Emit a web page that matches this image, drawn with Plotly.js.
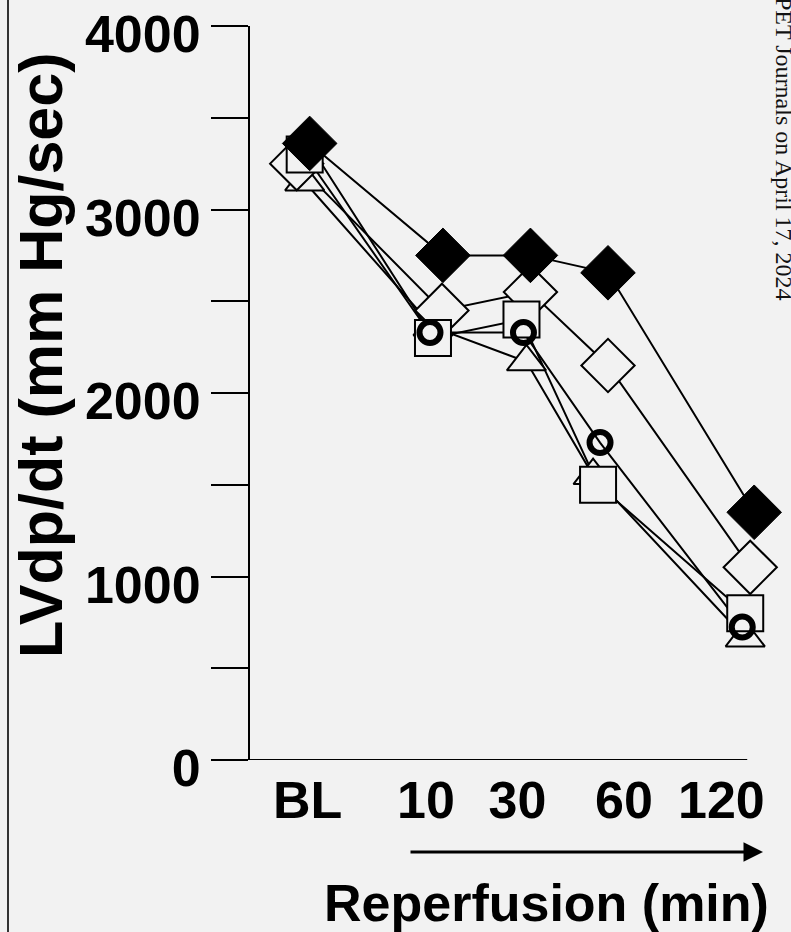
<!DOCTYPE html>
<html>
<head>
<meta charset="utf-8">
<script src="https://cdn.plot.ly/plotly-3.0.1.min.js"></script>
<style>
  html, body { margin: 0; padding: 0; background: #f2f2f2; }
  #chart { width: 791px; height: 932px; }
</style>
</head>
<body>
<div id="chart"></div>
<script>
// ---- data ----
const tickLabels = ['BL', '10', '30', '60', '120'];
const tickLabelPos = [0.58, 1.77, 2.69, 3.76, 4.74];
const xAxisEnd = 5;   // end of the drawn x-axis baseline (in x units)

const yTickVals = [0, 500, 1000, 1500, 2000, 2500, 3000, 3500, 4000];
const yTickText = ['0', '', '1000', '', '2000', '', '3000', '', '4000'];

// per-animal series: x = plotting position (category with small dodge), y = LVdp/dt
const triangleX = [0.55, 1.84, 2.78, 3.45, 4.98];
const triangleY = [3150, 2360, 2170, 1550, 665];

const openDiamondX = [0.47, 1.93, 2.82, 3.60, 5.03];
const openDiamondY = [3250, 2450, 2550, 2150, 1050];

const squareX = [0.55, 1.84, 2.73, 3.50, 4.98];
const squareY = [3300, 2300, 2400, 1500, 800];

const circleX = [0.60, 1.81, 2.75, 3.52, 4.95];
const circleY = [3350, 2330, 2330, 1730, 725];

const filledDiamondX = [0.60, 1.94, 2.82, 3.60, 5.07];
const filledDiamondY = [3360, 2750, 2750, 2655, 1350];

// ---- styling ----
const BG = '#f2f2f2';
const FONT = 'Liberation Sans, Arial, sans-serif';

const series = [
  {x: triangleX, y: triangleY, symbol: 'triangle-up', size: 34, fill: BG, lw: 2},
  {x: openDiamondX, y: openDiamondY, symbol: 'diamond', size: 41, fill: BG, lw: 2},
  {x: squareX, y: squareY, symbol: 'square', size: 36, fill: BG, lw: 2},
  {x: circleX, y: circleY, symbol: 'circle', size: 21, fill: 'rgba(0,0,0,0)', lw: 6},
  {x: filledDiamondX, y: filledDiamondY, symbol: 'diamond', size: 42, fill: '#000', lw: 1}
];

const traces = [];
series.forEach(s => {
  traces.push({
    type: 'scatter', mode: 'lines', x: s.x, y: s.y,
    line: {color: '#000', width: 2}, hoverinfo: 'skip', showlegend: false
  });
});
series.forEach(s => {
  traces.push({
    type: 'scatter', mode: 'markers', x: s.x, y: s.y, cliponaxis: false,
    marker: {symbol: s.symbol, size: s.size, color: s.fill, line: {color: '#000', width: s.lw}},
    showlegend: false
  });
});

const W = 791, H = 932;
const L = 250, R = 4, T = 26, B = 172;
const pw = W - L - R, ph = H - T - B;
const px = v => (v - L) / pw;          // page pixel -> paper x
const py = v => (H - B - v) / ph;      // page pixel -> paper y

const layout = {
  width: W, height: H,
  margin: {l: L, r: R, t: T, b: B, pad: 0},
  paper_bgcolor: BG, plot_bgcolor: BG,
  showlegend: false,
  font: {family: FONT, color: '#000'},
  xaxis: {
    range: [0, 5.4], showgrid: false, zeroline: false,
    showline: false,
    ticks: '', tickvals: tickLabelPos, ticktext: tickLabels,
    tickfont: {family: FONT, size: 52, weight: 'bold', color: '#000'},
    ticklabelstandoff: 5
  },
  yaxis: {
    range: [0, 4000], showgrid: false, zeroline: false,
    showline: true, linecolor: '#000', linewidth: 2,
    ticks: 'outside', ticklen: 37, tickwidth: 2, tickcolor: '#000',
    tickvals: yTickVals, ticktext: yTickText, ticklabeloverflow: 'allow',
    ticklabelshift: 8,
    tickfont: {family: FONT, size: 52, weight: 'bold', color: '#000'}
  },
  annotations: [
    {text: 'LVdp/dt (mm Hg/sec)', textangle: -90, xref: 'paper', yref: 'paper',
     x: px(41), y: py(355), xanchor: 'center', yanchor: 'middle', showarrow: false,
     font: {family: FONT, size: 61, weight: 'bold', color: '#000'}},
    {text: 'Reperfusion (min)', xref: 'paper', yref: 'paper',
     x: px(546), y: py(903), xanchor: 'center', yanchor: 'middle', showarrow: false,
     font: {family: FONT, size: 52, weight: 'bold', color: '#000'}},
    {text: '', xref: 'paper', yref: 'paper', x: px(763), y: py(852),
     showarrow: true, ax: 409 - 763, ay: 0, axref: 'pixel', ayref: 'pixel',
     arrowhead: 2, arrowsize: 1.3, arrowwidth: 3, arrowcolor: '#000', standoff: 0},
    {text: 'PET Journals on April 17, 2024', textangle: 90, xref: 'paper', yref: 'paper',
     x: px(784), y: py(149), xanchor: 'center', yanchor: 'middle', showarrow: false,
     font: {family: 'Liberation Serif, Times New Roman, serif', size: 24, color: '#111'}}
  ],
  shapes: [
    {type: 'line', xref: 'paper', yref: 'paper', x0: px(8), x1: px(8), y0: py(H), y1: py(0),
     line: {color: '#333', width: 2}},
    {type: 'line', xref: 'x', yref: 'y', x0: 0, x1: xAxisEnd, y0: 0, y1: 0,
     line: {color: '#000', width: 2}}
  ]
};

Plotly.newPlot('chart', traces, layout, {displayModeBar: false, staticPlot: true});
</script>
</body>
</html>
